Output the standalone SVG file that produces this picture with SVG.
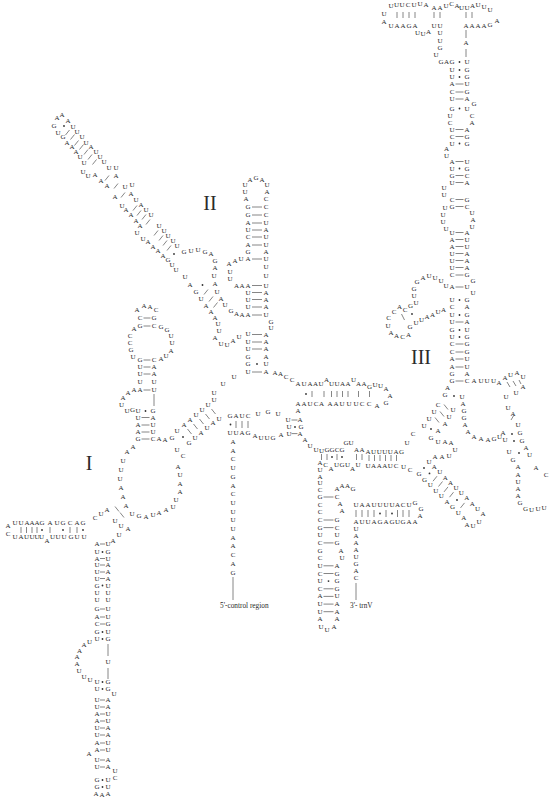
<svg xmlns="http://www.w3.org/2000/svg" width="549" height="798" viewBox="0 0 549 798">
<style>
text{font-family:"Liberation Serif","Times New Roman",serif;fill:#2a2a2a}
.n text{font-size:7px;text-anchor:middle;dominant-baseline:central}
.big{font-size:20px;text-anchor:middle;dominant-baseline:central}
.lab{font-size:7.3px;dominant-baseline:central}
.b{stroke:#444;stroke-width:0.65;fill:none}
.d{fill:#333}
</style>
<rect width="549" height="798" fill="#fff"/>

<g id="domain-III" class="n">
<text x="384" y="14">U</text><text x="391" y="6">U</text><text x="396.5" y="5">U</text><text x="402" y="5">U</text><text x="408" y="5">C</text><text x="414" y="5">U</text><text x="420" y="4">U</text><text x="426" y="5">A</text><text x="434" y="8">A</text><text x="440" y="8">A</text><text x="446" y="6">U</text><text x="451.5" y="4">C</text><text x="457" y="6">A</text><text x="461.5" y="8">U</text><text x="467" y="8">U</text><text x="472.5" y="6">A</text><text x="478" y="5">U</text><text x="484" y="7">U</text><text x="490" y="10">U</text><text x="497" y="21">A</text>
<text x="384" y="22">A</text><text x="391" y="26">U</text><text x="397" y="26">A</text><text x="403" y="26">A</text><text x="409" y="26">G</text><text x="415" y="26">A</text><text x="417.5" y="33">U</text><text x="423" y="34">U</text><text x="428.5" y="32">A</text>
<text x="434" y="26">U</text><text x="440" y="26">U</text><text x="440" y="33">U</text><text x="440" y="41">U</text><text x="440" y="48">G</text><text x="436" y="55">U</text><text x="441" y="62">G</text><text x="446.5" y="62">A</text>
<text x="466" y="26">A</text><text x="472" y="26">A</text><text x="478" y="26">A</text><text x="484" y="26">A</text><text x="490" y="25">G</text><text x="466" y="43">A</text>
<text x="452" y="62">G</text><text x="452" y="70">U</text><text x="452" y="77">U</text><text x="452" y="84">A</text><text x="452" y="92">C</text><text x="452" y="99">U</text><text x="452" y="108.5">G</text><text x="450" y="115.5">U</text><text x="450" y="122.5">C</text><text x="452" y="129.5">U</text><text x="452" y="136.5">C</text><text x="452" y="143.5">U</text><text x="446.5" y="149">A</text><text x="446.5" y="156">U</text><text x="452" y="161.5">A</text><text x="452" y="168.5">U</text><text x="452" y="175.5">G</text><text x="452" y="182.5">U</text><text x="444" y="188">U</text><text x="444" y="195">U</text><text x="452" y="199.5">C</text><text x="445" y="208">U</text><text x="452" y="206.5">G</text><text x="443" y="215">U</text><text x="443" y="222">U</text><text x="446" y="228.5">U</text><text x="452" y="232.5">U</text><text x="452" y="239.5">A</text><text x="452" y="246.5">A</text><text x="452" y="253.5">U</text><text x="452" y="260.5">U</text><text x="452" y="267.5">U</text><text x="452" y="275">C</text><text x="446" y="286">U</text><text x="452" y="287">A</text><text x="452" y="300">U</text><text x="452" y="307">C</text><text x="452" y="315">U</text><text x="452" y="322">U</text><text x="452" y="330">G</text><text x="452" y="337">U</text><text x="452" y="344">C</text><text x="452" y="352">C</text><text x="452" y="359">A</text><text x="452" y="367">A</text><text x="452" y="374">G</text><text x="452" y="381">G</text>
<text x="467" y="62">U</text><text x="467" y="70">G</text><text x="467" y="77">G</text><text x="467" y="84">U</text><text x="467" y="92">G</text><text x="467" y="99">A</text><text x="474" y="104">G</text><text x="467" y="108.5">U</text><text x="472" y="115.5">C</text><text x="472" y="122.5">A</text><text x="467" y="129.5">A</text><text x="467" y="136.5">G</text><text x="467" y="143.5">G</text><text x="467" y="161.5">U</text><text x="467" y="168.5">G</text><text x="467" y="175.5">C</text><text x="467" y="182.5">A</text><text x="467" y="199.5">G</text><text x="467" y="206.5">C</text><text x="472" y="212.5">U</text><text x="473" y="219.5">A</text><text x="472" y="226.5">U</text><text x="467" y="232.5">A</text><text x="467" y="239.5">U</text><text x="467" y="246.5">U</text><text x="467" y="253.5">A</text><text x="467" y="260.5">A</text><text x="467" y="267.5">A</text><text x="467" y="275">G</text><text x="473" y="281">G</text><text x="467" y="287">U</text><text x="473" y="293">U</text><text x="467" y="300">G</text><text x="467" y="307">A</text><text x="467" y="315">G</text><text x="467" y="322">A</text><text x="467" y="330">U</text><text x="467" y="337">G</text><text x="467" y="344">G</text><text x="467" y="352">G</text><text x="467" y="359">U</text><text x="467" y="367">U</text><text x="467" y="374">A</text><text x="467" y="381">C</text><text x="474" y="381">A</text><text x="481" y="381">U</text><text x="487" y="381">U</text><text x="493.5" y="381">U</text>
<text x="441" y="281">U</text><text x="435" y="278">U</text><text x="429" y="276">U</text><text x="423" y="278">A</text><text x="417" y="282">G</text><text x="414" y="289">G</text><text x="414" y="296">U</text><text x="416" y="302.5">U</text><text x="410.5" y="306">G</text><text x="405" y="310">C</text><text x="399.5" y="307">A</text><text x="394" y="312">C</text><text x="388.5" y="318">C</text><text x="388" y="326">U</text><text x="391" y="333">A</text><text x="396.5" y="336">A</text><text x="402.5" y="337">C</text><text x="408.5" y="335">A</text><text x="410" y="327">G</text><text x="416" y="322.5">U</text><text x="421.5" y="320">U</text><text x="427" y="317">A</text><text x="432.5" y="314.5">A</text><text x="438" y="312">U</text><text x="443.5" y="309.5">A</text>
<text x="499" y="383">A</text><text x="505" y="378">A</text><text x="510.5" y="375">U</text><text x="517" y="373">A</text><text x="523" y="377">U</text><text x="523" y="387">A</text><text x="516" y="392.5">U</text><text x="506" y="397">U</text>
<text x="508" y="408">U</text><text x="513" y="414">A</text><text x="518" y="425">U</text><text x="520" y="433">G</text><text x="503" y="433">A</text><text x="505" y="440">U</text><text x="522" y="441">G</text><text x="526" y="447.5">A</text><text x="509" y="452">U</text><text x="529.5" y="454.5">U</text><text x="513" y="460">G</text><text x="518" y="466.5">A</text><text x="536" y="468">A</text><text x="546" y="475">C</text><text x="518" y="475">A</text><text x="518" y="482">U</text><text x="518" y="489">A</text><text x="518" y="496">A</text><text x="520" y="503">G</text><text x="525.5" y="509">G</text><text x="531.5" y="509.5">U</text><text x="538" y="508.5">U</text><text x="544" y="507.5">U</text>
<text x="447.5" y="387.5">A</text><text x="445" y="394.5">G</text><text x="462" y="397">U</text><text x="438" y="405">C</text><text x="434" y="412">U</text><text x="429" y="418.5">U</text><text x="424" y="426">U</text><text x="453" y="410">U</text><text x="449" y="416.5">U</text><text x="445" y="423.5">A</text><text x="438" y="431">A</text><text x="463" y="404">A</text><text x="464" y="411">G</text><text x="464" y="418">G</text><text x="465" y="425">A</text><text x="468" y="432">A</text><text x="474" y="437">A</text><text x="481" y="439">A</text><text x="488" y="440">A</text><text x="494" y="439">G</text><text x="499.5" y="437">U</text>
<text x="431" y="437.5">G</text><text x="438" y="442">U</text><text x="445" y="442">A</text><text x="451" y="443">A</text><text x="455" y="450">U</text><text x="449" y="456">U</text><text x="442" y="456.5">A</text><text x="435" y="456.5">A</text>
<text x="413" y="434">C</text><text x="407" y="443">U</text>
<text x="368" y="452">A</text><text x="373.6" y="452">U</text><text x="379.2" y="452">U</text><text x="384.8" y="452">U</text><text x="390.4" y="452">U</text><text x="396" y="452">A</text><text x="401.6" y="452">G</text>
<text x="368" y="466">U</text><text x="373.6" y="466">A</text><text x="379.2" y="466">A</text><text x="384.8" y="466">A</text><text x="390.4" y="466">U</text><text x="396" y="466">C</text><text x="403.5" y="467">U</text><text x="410" y="470">C</text>
<text x="419" y="474">G</text><text x="424.6" y="479.5">G</text><text x="430.2" y="485">U</text><text x="435.8" y="490.5">U</text><text x="441.4" y="496">U</text><text x="447" y="501.5">A</text><text x="452.6" y="507">G</text><text x="458.2" y="512.5">U</text><text x="463.8" y="518">A</text>
<text x="429" y="462">U</text><text x="434.4" y="467.2">A</text><text x="439.8" y="472.4">U</text><text x="445.2" y="477.6">A</text><text x="450.6" y="482.8">A</text><text x="456" y="488">U</text><text x="461.4" y="493.2">U</text><text x="466.8" y="498.4">A</text><text x="472.2" y="503.6">A</text><text x="477.6" y="508.8">U</text><text x="483" y="514">A</text>
<text x="467" y="524.5">A</text><text x="473" y="525.5">U</text><text x="479" y="522">U</text>
<text x="368" y="505">A</text><text x="374" y="505">U</text><text x="380" y="505">U</text><text x="386" y="505">U</text><text x="392" y="505">U</text><text x="397.5" y="505">A</text><text x="403" y="505">C</text><text x="409" y="505">U</text><text x="415" y="503">G</text><text x="421" y="509">G</text><text x="420" y="516">A</text>
<text x="368" y="522">U</text><text x="374" y="522">A</text><text x="380" y="522">G</text><text x="386" y="522">A</text><text x="392" y="522">G</text><text x="397.5" y="522">U</text><text x="403" y="522">G</text><text x="409" y="522">A</text><text x="415" y="522">A</text>
</g>

<g id="junction-II-III" class="n">
<text x="298" y="384">A</text><text x="304" y="384">U</text><text x="310" y="384">A</text><text x="315.5" y="384">A</text><text x="321" y="384">U</text><text x="326.5" y="379.5">A</text><text x="331.5" y="384">U</text><text x="337" y="384">U</text><text x="342.5" y="384">A</text><text x="348" y="384">A</text><text x="353.5" y="379.5">U</text><text x="358.5" y="384">A</text><text x="364" y="384">A</text><text x="369.5" y="386.5">G</text><text x="375" y="385">U</text><text x="380.5" y="386">U</text><text x="386" y="389">A</text><text x="390" y="396">A</text>
<text x="298" y="404">A</text><text x="304" y="404">A</text><text x="310" y="404">U</text><text x="316" y="404">C</text><text x="321.5" y="404">A</text><text x="330" y="404">A</text><text x="336" y="404">A</text><text x="342" y="404">U</text><text x="349" y="404">U</text><text x="356" y="404">U</text><text x="362" y="404">C</text><text x="369" y="404">C</text><text x="377" y="406">A</text><text x="386" y="403">G</text>
<text x="298" y="411">A</text><text x="288" y="420">U</text><text x="289" y="426.8">U</text><text x="289" y="433.6">U</text><text x="300" y="420">A</text><text x="301" y="426.8">G</text><text x="300" y="433.6">A</text><text x="305" y="440">A</text><text x="310" y="445.5">U</text>
<text x="230" y="416">G</text><text x="236" y="416">A</text><text x="242" y="416">U</text><text x="248" y="416">C</text><text x="258" y="414">U</text><text x="268" y="412">G</text><text x="278" y="414">U</text>
<text x="230" y="433">U</text><text x="236" y="433">U</text><text x="242" y="433">A</text><text x="248" y="433">G</text><text x="255" y="436">A</text><text x="261" y="438">U</text><text x="267" y="438">U</text><text x="273" y="438">G</text><text x="281" y="435">A</text>
<text x="233" y="442">A</text><text x="233" y="450.7">A</text><text x="233" y="459.4">C</text><text x="233" y="468.1">U</text><text x="233" y="476.8">G</text><text x="233" y="485.5">A</text><text x="233" y="494.2">C</text><text x="233" y="502.9">U</text><text x="233" y="511.6">U</text><text x="233" y="520.3">U</text><text x="233" y="529">U</text><text x="233" y="537.7">A</text><text x="233" y="546.4">A</text><text x="233" y="555.1">C</text><text x="233" y="563.8">A</text><text x="233" y="572.5">G</text>
<text x="316" y="450">U</text><text x="321.5" y="451">U</text><text x="327" y="450">G</text><text x="332" y="450">G</text><text x="337" y="450">C</text><text x="342" y="450">G</text><text x="346" y="443">G</text><text x="351" y="443">U</text><text x="356.5" y="450">A</text><text x="362" y="450">A</text>
<text x="320" y="462.5">A</text><text x="325.5" y="464.5">C</text><text x="331" y="468.5">A</text><text x="336.5" y="464.5">U</text><text x="342" y="464.5">G</text><text x="347.5" y="464.5">U</text><text x="352.5" y="468.5">A</text><text x="358" y="464.5">U</text>
<text x="320" y="469.5">U</text><text x="320" y="476.5">A</text><text x="320" y="483.3">U</text><text x="320" y="490.2">C</text><text x="320" y="497">G</text><text x="320" y="504.6">C</text><text x="320" y="512.3">C</text><text x="320" y="520">C</text><text x="320" y="527.6">G</text><text x="320" y="535.2">U</text><text x="320" y="542.9">C</text><text x="320" y="550.5">G</text><text x="320" y="558.2">C</text><text x="320" y="565.8">U</text><text x="320" y="573.5">C</text><text x="320" y="581.1">U</text><text x="320" y="588.8">C</text><text x="320" y="596.4">A</text><text x="320" y="604.1">U</text><text x="320" y="611.7">U</text><text x="320" y="619.4">A</text>
<text x="337" y="497">C</text><text x="337" y="520">G</text><text x="337" y="527.6">C</text><text x="337" y="535.2">U</text><text x="337" y="542.9">G</text><text x="337" y="565.8">A</text><text x="337" y="573.5">G</text><text x="337" y="581.1">G</text><text x="337" y="588.8">G</text><text x="337" y="596.4">U</text><text x="337" y="604.1">A</text><text x="337" y="611.7">A</text><text x="337" y="619.4">A</text>
<text x="340" y="504">A</text><text x="342" y="511">A</text><text x="341" y="550.5">A</text><text x="342" y="558.2">U</text>
<text x="337" y="489">A</text><text x="342" y="485.5">A</text><text x="347.5" y="485.5">A</text><text x="353" y="489">G</text>
<text x="321" y="627">U</text><text x="327" y="630">U</text><text x="334" y="627">A</text>
<text x="356" y="505">U</text><text x="362" y="505">A</text><text x="356" y="522">A</text><text x="362" y="522">U</text>
<text x="356" y="529">U</text><text x="356" y="536">A</text><text x="356" y="543">A</text><text x="356" y="550">A</text><text x="356" y="557">U</text><text x="356" y="564">G</text><text x="356" y="571">A</text><text x="356" y="578">C</text>
</g>

<g id="labels">
<text class="lab" x="220" y="605">5'-control region</text>
<text class="lab" x="350" y="605">3'- trnV</text>
<text class="big" x="421" y="357">III</text>
<text class="big" x="210" y="203">II</text>
<text class="big" x="89" y="463">I</text>
</g>

<g id="domain-II" class="n">
<text x="245" y="185">U</text><text x="250" y="180">A</text><text x="256" y="178">G</text><text x="262" y="180">A</text><text x="267" y="185">U</text><text x="245" y="192">U</text><text x="267" y="192">A</text><text x="246" y="199">A</text><text x="266" y="199">C</text>
<text x="248" y="207">G</text><text x="248" y="215">G</text><text x="248" y="223">A</text><text x="248" y="230">U</text><text x="248" y="237">C</text><text x="248" y="245">A</text><text x="248" y="252">G</text><text x="248" y="259">A</text><text x="248" y="285.5">A</text><text x="248" y="292.5">U</text><text x="248" y="299.5">U</text><text x="248" y="307">U</text><text x="248" y="315">A</text><text x="248" y="334">U</text><text x="248" y="342">U</text><text x="248" y="349">U</text><text x="248" y="357">G</text><text x="248" y="364">G</text><text x="248" y="372">U</text>
<text x="266" y="207">C</text><text x="266" y="215">C</text><text x="266" y="223">U</text><text x="266" y="230">A</text><text x="266" y="237">U</text><text x="266" y="245">U</text><text x="266" y="252">A</text><text x="266" y="259">U</text><text x="266" y="267">U</text><text x="266" y="276">U</text><text x="266" y="285.5">U</text><text x="266" y="292.5">A</text><text x="266" y="299.5">A</text><text x="266" y="307">A</text><text x="266" y="315">U</text><text x="271" y="321.5">G</text><text x="271" y="328">U</text><text x="266" y="334.5">A</text><text x="266" y="342">A</text><text x="266" y="349">A</text><text x="266" y="357">A</text><text x="266" y="364">U</text><text x="266" y="372">A</text>
<text x="229" y="264">A</text><text x="235" y="261">A</text><text x="241" y="259">U</text><text x="230" y="272">U</text><text x="230" y="279">U</text><text x="236.5" y="285.5">A</text><text x="242" y="285.5">A</text><text x="231" y="311">G</text><text x="236.5" y="313.5">A</text><text x="242" y="315">A</text><text x="221" y="344">U</text><text x="227" y="344.5">U</text><text x="233" y="341">A</text><text x="239" y="337">U</text>
<text x="275" y="373">A</text><text x="280.5" y="374">A</text><text x="286" y="377">C</text><text x="292" y="380">C</text><text x="234" y="377">U</text><text x="223" y="384">U</text><text x="214" y="393">U</text>
<text x="184" y="252">G</text><text x="191" y="251">U</text><text x="198" y="250">U</text><text x="205" y="252">G</text><text x="211" y="254">A</text><text x="215" y="261">G</text><text x="215" y="268">A</text><text x="214" y="276">U</text><text x="215" y="284">A</text><text x="217" y="292">U</text><text x="221" y="299">A</text><text x="225" y="305">U</text>
<text x="185" y="277">U</text><text x="190" y="285">A</text><text x="196" y="292">G</text><text x="201" y="299">U</text><text x="206" y="305.5">A</text><text x="211" y="311.5">A</text><text x="215" y="317.5">A</text><text x="218" y="324">U</text><text x="219" y="331">U</text><text x="215" y="338">A</text>
<text x="57" y="118">A</text><text x="62" y="115">A</text><text x="68" y="121">A</text>
<text x="54" y="126">G</text><text x="58" y="133">U</text><text x="63" y="137">G</text><text x="67" y="143">A</text><text x="72" y="147">A</text><text x="76" y="152">A</text><text x="80" y="157">U</text><text x="84" y="163">U</text><text x="83" y="172">U</text><text x="88" y="176">U</text><text x="95" y="175">A</text><text x="101" y="181">A</text><text x="107" y="186">A</text><text x="115" y="197">A</text><text x="122" y="206">U</text><text x="126" y="210">A</text><text x="131" y="215">A</text><text x="136" y="221">A</text><text x="140" y="226">A</text><text x="137" y="233">U</text><text x="143" y="239">U</text><text x="148" y="242">A</text><text x="153" y="246.5">A</text><text x="158" y="251">A</text><text x="163" y="255.5">A</text><text x="168" y="260">G</text><text x="172" y="265">U</text><text x="176" y="270">U</text>
<text x="73" y="127">U</text><text x="77" y="132">U</text><text x="82" y="137">U</text><text x="86" y="143">U</text><text x="91" y="147">A</text><text x="96" y="152">U</text><text x="100" y="157">U</text><text x="104" y="162">U</text><text x="109" y="168">U</text><text x="116" y="168">U</text><text x="116" y="176">A</text><text x="125" y="187">U</text><text x="132" y="185">U</text><text x="131" y="194">A</text><text x="136" y="200">U</text><text x="141" y="205">A</text><text x="146" y="210">U</text><text x="151" y="215">U</text><text x="159" y="226">U</text><text x="164" y="231">U</text><text x="168" y="236">U</text><text x="173" y="241">U</text><text x="177" y="246">U</text>
</g>

<g id="domain-I" class="n">
<text x="137" y="310">A</text><text x="144" y="306">A</text><text x="150" y="307">A</text><text x="156" y="310">C</text>
<text x="140" y="318">C</text><text x="134" y="329">A</text><text x="140" y="326">G</text><text x="130" y="336">C</text><text x="130" y="343">C</text><text x="131" y="350">G</text><text x="133" y="357">U</text><text x="140" y="360">G</text><text x="140" y="367">U</text><text x="140" y="374">U</text><text x="140" y="382">U</text><text x="140" y="390">A</text><text x="134" y="390">A</text><text x="128" y="393">A</text><text x="123" y="398">A</text><text x="121.5" y="404.5">U</text><text x="127" y="410.5">U</text><text x="132.5" y="410">G</text>
<text x="154" y="318">G</text><text x="154" y="326">C</text><text x="161" y="327">G</text><text x="167" y="330">G</text><text x="171" y="336">U</text><text x="172" y="343">U</text><text x="171" y="351">A</text><text x="166" y="356">U</text><text x="161" y="359">A</text><text x="154" y="360">C</text><text x="154" y="367">A</text><text x="154" y="374">A</text><text x="154" y="382">U</text><text x="154" y="390">U</text>
<text x="138" y="411">U</text><text x="138" y="417.5">U</text><text x="138" y="425">A</text><text x="138" y="432">A</text><text x="138" y="439">G</text>
<text x="153" y="411">G</text><text x="153" y="417.5">A</text><text x="153" y="425">U</text><text x="153" y="432">U</text><text x="153" y="439">C</text><text x="159" y="439">A</text><text x="165" y="440">A</text><text x="172" y="437.5">G</text><text x="177" y="431">U</text>
<text x="133" y="447">A</text><text x="127" y="452">A</text><text x="123" y="461">U</text><text x="121" y="470">U</text><text x="120" y="479">U</text><text x="121" y="488">A</text><text x="123" y="497">A</text>
<text x="184" y="425">A</text><text x="190" y="420">A</text><text x="196" y="415">U</text><text x="202" y="410">U</text><text x="208" y="405">U</text><text x="214" y="400">U</text>
<text x="189" y="443">G</text><text x="195" y="438">U</text><text x="201" y="433">A</text><text x="207" y="428">U</text><text x="213" y="423">A</text><text x="219" y="419">U</text>
<text x="177" y="450">U</text><text x="183" y="456">C</text><text x="178" y="467">A</text><text x="180" y="475">U</text><text x="180" y="484">A</text><text x="180" y="492">A</text><text x="176" y="500">U</text><text x="173" y="507">U</text><text x="166" y="510">A</text><text x="159" y="513">A</text><text x="153" y="515">U</text><text x="146" y="517">A</text><text x="139" y="516">G</text><text x="132" y="514">U</text>
<text x="95" y="518">C</text><text x="101" y="514">U</text><text x="107" y="510">A</text><text x="126" y="506">A</text><text x="115" y="521">U</text><text x="121" y="526">U</text><text x="128" y="529">A</text><text x="119" y="534.5">U</text><text x="113" y="541">A</text>
<text x="15" y="523">U</text><text x="21" y="523">U</text><text x="27" y="523">A</text><text x="32" y="523">A</text><text x="37" y="523">A</text><text x="42" y="523">G</text><text x="50" y="523">A</text><text x="57" y="523">U</text><text x="63" y="523">G</text><text x="70" y="523">C</text><text x="77" y="523">A</text><text x="83" y="523">G</text>
<text x="8" y="526">A</text><text x="8" y="534">C</text>
<text x="15" y="537">U</text><text x="21" y="537">A</text><text x="26.5" y="537">U</text><text x="32" y="537">U</text><text x="37" y="537">U</text><text x="41.5" y="537">U</text><text x="47" y="541">A</text><text x="52.5" y="537">U</text><text x="58" y="537">U</text><text x="64" y="537">U</text><text x="71" y="537">G</text><text x="77" y="537">U</text><text x="84" y="537">U</text>
<text x="97" y="544">A</text><text x="97" y="552">U</text><text x="97" y="558.5">A</text><text x="97" y="565">U</text><text x="97" y="572">U</text><text x="97" y="578.5">U</text><text x="97" y="585.5">G</text><text x="97" y="592.5">U</text><text x="97" y="600">U</text><text x="97" y="609">G</text><text x="97" y="617">A</text><text x="97" y="624">C</text><text x="97" y="632">G</text><text x="97" y="639">U</text><text x="97" y="682">U</text><text x="97" y="689">U</text><text x="97" y="700">U</text><text x="97" y="707">U</text><text x="97" y="714">A</text><text x="97" y="721">A</text><text x="97" y="728">U</text><text x="97" y="735">U</text><text x="97" y="743">A</text><text x="97" y="750">A</text><text x="97" y="760">U</text><text x="97" y="767">U</text><text x="97" y="780">G</text><text x="97" y="787">G</text><text x="96" y="794">A</text>
<text x="108" y="544">U</text><text x="108" y="552">G</text><text x="108" y="558.5">U</text><text x="108" y="565">A</text><text x="108" y="572">A</text><text x="108" y="578.5">A</text><text x="108" y="585.5">U</text><text x="108" y="592.5">U</text><text x="108" y="600">U</text><text x="108" y="609">U</text><text x="108" y="617">U</text><text x="108" y="624">G</text><text x="108" y="632">U</text><text x="108" y="639">G</text><text x="108" y="662">U</text><text x="108" y="682">G</text><text x="108" y="689">G</text><text x="108" y="700">A</text><text x="108" y="707">A</text><text x="108" y="714">U</text><text x="108" y="721">U</text><text x="108" y="728">A</text><text x="108" y="735">A</text><text x="108" y="743">U</text><text x="108" y="750">U</text><text x="108" y="760">A</text><text x="108" y="767">A</text><text x="108" y="780">U</text><text x="108" y="787">U</text><text x="108" y="794">A</text>
<text x="114" y="694">U</text><text x="115" y="770.5">U</text><text x="115" y="777.5">C</text><text x="89" y="754">A</text><text x="102" y="795">A</text>
<text x="89.5" y="641.5">U</text><text x="84" y="645">A</text><text x="79.5" y="650.5">A</text><text x="77" y="657">A</text><text x="77" y="664">A</text><text x="79" y="671">U</text><text x="84" y="677">U</text><text x="90" y="680">U</text>
</g>

<g id="connectors">
<path class="b" d="M397 12v6M403 12v6M409 12v6M415 12v6M434 12v6M440 12v6M466 12v6M472 12v6M466 30v8M466 49v8"/>
<path class="b" d="M455.5 84h8M455.5 92h8M455.5 99h8M455.5 129.5h8M455.5 136.5h8M455.5 161.5h8M455.5 175.5h8M455.5 182.5h8M455.5 199.5h8M455.5 206.5h8M455.5 232.5h8M455.5 239.5h8M455.5 246.5h8M455.5 253.5h8M455.5 260.5h8M455.5 267.5h8M455.5 275h8M455.5 287h8M455.5 322h8M455.5 344h8M455.5 352h8M455.5 359h8M455.5 367h8M455.5 381h8"/>
<g class="d">
<circle cx="459.5" cy="62" r="0.9"/><circle cx="459.5" cy="70" r="0.9"/><circle cx="459.5" cy="77" r="0.9"/><circle cx="459.5" cy="108.5" r="0.9"/><circle cx="459.5" cy="143.5" r="0.9"/><circle cx="459.5" cy="168.5" r="0.9"/><circle cx="459.5" cy="300" r="0.9"/><circle cx="459.5" cy="315" r="0.9"/><circle cx="459.5" cy="330" r="0.9"/><circle cx="459.5" cy="337" r="0.9"/>
<circle cx="412" cy="314" r="0.9"/><circle cx="454" cy="396" r="0.9"/><circle cx="431" cy="429" r="0.9"/>
<circle cx="512" cy="434" r="0.9"/><circle cx="514" cy="441" r="0.9"/><circle cx="519" cy="453" r="0.9"/>
<circle cx="424" cy="468" r="0.9"/><circle cx="429.5" cy="473.4" r="0.9"/><circle cx="457" cy="500" r="0.9"/>
<circle cx="380" cy="513.5" r="0.9"/><circle cx="392" cy="513.5" r="0.9"/>
<circle cx="332" cy="457" r="0.9"/><circle cx="342" cy="457" r="0.9"/>
<circle cx="306" cy="394" r="0.9"/><circle cx="295" cy="427" r="0.9"/><circle cx="230.5" cy="424.5" r="0.9"/>
<circle cx="328.5" cy="581.1" r="0.9"/>
<circle cx="257" cy="364" r="0.9"/><circle cx="202.5" cy="285" r="0.9"/>
<circle cx="64" cy="126" r="0.9"/><circle cx="174" cy="254" r="0.9"/>
<circle cx="145.5" cy="411" r="0.9"/><circle cx="183" cy="437" r="0.9"/>
<circle cx="42" cy="530" r="0.9"/><circle cx="63" cy="530" r="0.9"/><circle cx="83" cy="530" r="0.9"/>
<circle cx="102.5" cy="552" r="0.9"/><circle cx="102.5" cy="585.5" r="0.9"/><circle cx="102.5" cy="632" r="0.9"/><circle cx="102.5" cy="639" r="0.9"/><circle cx="102.5" cy="682" r="0.9"/><circle cx="102.5" cy="689" r="0.9"/><circle cx="102.5" cy="780" r="0.9"/><circle cx="102.5" cy="787" r="0.9"/>
</g>
<path class="b" d="M401.5 314l3 6M507 382l3 5M513 381l3 5M519 380l2 4M511 420l3 -5M444 404.5l4 5M440 411.5l4 5M435 417.5l4 5"/>
<path class="b" d="M433 481.2l4 -5M438.5 486.5l4 -5M444 491.9l4 -5M449.5 497.2l4 -5M460.5 507.9l4 -5"/>
<path class="b" d="M368 510v7M374 510v7M386 510v7M397.5 510v7M403 510v7M409 510v7M356 510v7M362 510v7"/>
<path class="b" d="M369 455v6M374.5 455v6M380 455v6M385.5 455v6M391 455v6M396.5 455v6M321.5 454v6M327 454v6M337 454v6M356.5 454v6M362 454v6"/>
<path class="b" d="M312 391v6M324 391v6M331.5 391v6M337 391v6M342.5 391v6M348 391v6M358.5 391v6M369.5 391v6"/>
<path class="b" d="M291.5 420h6M291.5 433.6h6M236 421v7M242 421v7M248 421v7"/>
<path class="b" d="M323.5 497h10M323.5 520h10M323.5 527.6h10M323.5 542.9h10M323.5 565.8h10M323.5 573.5h10M323.5 588.8h10M323.5 596.4h10M323.5 604.1h10M323.5 611.7h10"/>
<path class="b" d="M356 583v17M233 577v23"/>
<path class="b" d="M252 207h10M252 215h10M252 223h10M252 230h10M252 237h10M252 245h10M252 259h10M252 285.5h10M252 292.5h10M252 299.5h10M252 307h10M252 315h10M252 334.5h10M252 342h10M252 349h10M252 372h10"/>
<path class="b" d="M204 294.5l4 -5M209 301.5l4 -5M213.5 307.5l4 -5"/>
<path class="b" d="M65.5 135l4 -5M70.5 139.5l4 -5M74.5 145.5l4 -5M79.5 149.5l4 -5M84 154.5l4 -5M88 159.5l4 -5M92.5 164.5l4 -5M105 180.5l4 -5M114 188.5l4 -5M121 197.5l4 -5M133 210.5l4 -5M137 215.5l4 -5M142 219.5l4 -5M146 224.5l4 -5M154 235.5l4 -5M159 240.5l4 -5M163 245.5l4 -5M167 250.5l4 -5"/>
<path class="b" d="M143.5 318h7M143.5 326h7M143.5 360h7M143.5 367h7M143.5 374h7M143.5 390h7M154 394v12M141.5 417.5h8M141.5 425h8M141.5 432h8M141.5 439h8"/>
<path class="b" d="M187.5 429l4 5M193.5 424l4 5M199.5 419l4 5M205.5 414l4 5M211.5 409l4 5M115 506.5l4 5M120 512.5l4 5"/>
<path class="b" d="M21 527v6M26.5 527v6M32 527v6M37 527v6M50 527v6M70 527v6M77 527v6"/>
<path class="b" d="M100 544h5M100 558.5h5M100 565h5M100 572h5M100 578.5h5M100 609h5M100 617h5M100 624h5M100 700h5M100 707h5M100 714h5M100 721h5M100 728h5M100 735h5M100 743h5M100 750h5M100 760h5M100 767h5M108 644v12M108 668v11"/>
</g>
</svg>
